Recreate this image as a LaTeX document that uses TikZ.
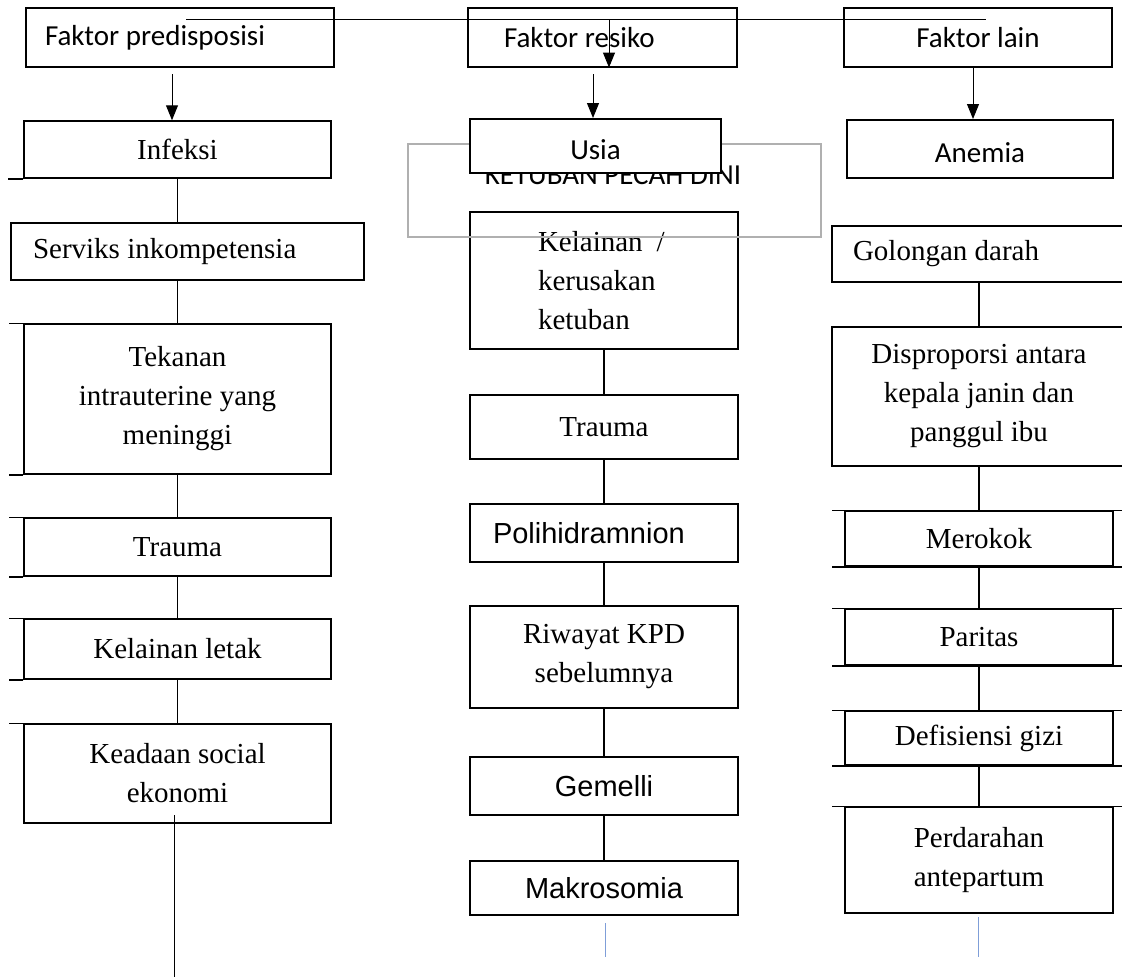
\documentclass[tikz,border=0pt]{standalone}
\usepackage{fontspec}
\newfontfamily\tnr{Liberation Serif}
\newfontfamily\calib{Carlito}
\newfontfamily\arl{Liberation Sans}
\usepackage{tikz}
\usetikzlibrary{
  arrows.meta,
  positioning,
  calc
}
\definecolor{kpdgray}{HTML}{B0B0B0}
\definecolor{kpdblue}{HTML}{7F9ED8}

\begin{document}
\begin{tikzpicture}[x=1pt,y=-1pt,
			box/.style={draw, line width=1.5pt, inner sep=0pt,
				font=\tnr\fontsize{29}{39}\selectfont},
			hd/.style={draw, line width=1.1pt, inner sep=0pt, minimum height=59pt,
				font=\calib\fontsize{29}{36}\selectfont},
			tb/.style={box, line width=2pt, fill=white, text height=27pt, text depth=0pt,
				font=\calib\fontsize{29}{36}\selectfont},
			ar/.style={box, font=\arl\fontsize{29}{36}\selectfont},
			ln/.style={line width=1.6pt},
			lnb/.style={line width=2.4pt},
			stub/.style={line width=1.5pt},
			blu/.style={kpdblue, line width=1pt},
			arr/.style={-{Triangle[width=12pt,length=15pt]}, line width=1pt}
			]
			\clip (0,0) rectangle (1122,978);
			% top row
			\node[hd, minimum width=308pt, text width=270pt, align=flush left] (fpre) at (180,37.5) {Faktor predisposisi};
			\node[hd, minimum width=269pt, text width=197pt, align=flush left] (fres) at (602.5,37.5) {Faktor resiko};
			\node[hd, minimum width=268pt] (flain) at (978,37.5) {Faktor lain};
			\coordinate (tl) at (186,19);
			\coordinate (tr) at (986,19);
			\draw[line width=1pt] (tl) -- (tr);
			% left column
			\node[box, minimum width=307pt, minimum height=57pt] (inf) at (177.5,149.5) {Infeksi};
			\node[box, minimum width=353pt, minimum height=57pt, text width=309pt, align=flush left] (srv) at (187.5,251.5) {Serviks inkompetensia};
			\node[box, minimum width=307pt, minimum height=150pt, align=center] (tek) at (177.5,399) {Tekanan\\intrauterine yang\\meninggi};
			\node[box, minimum width=307pt, minimum height=58pt] (trl) at (177.5,547) {Trauma};
			\node[box, minimum width=307pt, minimum height=60pt] (klt) at (177.5,649) {Kelainan letak};
			\node[box, minimum width=307pt, minimum height=99pt, align=center] (kea) at (177.5,773.5) {Keadaan social\\ekonomi};
			\draw[ln] (inf.south) -- (inf.south |- srv.north);
			\draw[ln] (tek.north |- srv.south) -- (tek.north);
			\draw[ln] (tek) -- (trl);
			\draw[ln] (trl) -- (klt);
			\draw[ln] (klt) -- (kea);
			\draw[stub] (inf.south west) -- ++(-15,0);
			\foreach \n in {tek,trl,klt}{
				\draw[stub] (\n.north west) -- ++(-14,0);
				\draw[stub] (\n.south west) -- ++(-14,0);
			}
			\draw[stub] (kea.north west) -- ++(-14,0);
			\coordinate (ke1) at (174,815);
			\coordinate (ke2) at (174,977);
			\draw[line width=1pt] (ke1) -- (ke2);
			% middle column
			\node[box, minimum width=268pt, minimum height=137pt, text width=132pt, align=flush left] (kel) at (604,280.5) {\hbox{Kelainan\hspace{14pt}/}\\kerusakan\\ketuban};
			\node[draw=kpdgray, line width=2pt, inner sep=0pt, minimum width=413pt, minimum height=93pt] (frame) at (614.5,190.5) {};
			\node[font=\calib\fontsize{29}{36}\selectfont, anchor=base, inner sep=0pt] (kpd) at (613,184) {KETUBAN PECAH DINI};
			\node[tb, minimum width=251pt, minimum height=54pt] (usia) at (595.5,146) {Usia};
			\node[box, minimum width=268pt, minimum height=64pt] (trm) at (604,427) {Trauma};
			\node[ar, minimum width=268pt, minimum height=58pt, text width=222pt, align=flush left] (poli) at (604,533) {Polihidramnion};
			\node[box, minimum width=268pt, minimum height=102pt, align=center] (riw) at (604,657) {Riwayat KPD\\sebelumnya};
			\node[ar, minimum width=268pt, minimum height=58pt] (gem) at (604,786) {Gemelli};
			\node[ar, minimum width=268pt, minimum height=54pt] (mak) at (604,888) {Makrosomia};
			\draw[lnb] (kel) -- (trm);
			\draw[lnb] (trm) -- (poli);
			\draw[ln] (poli) -- (riw);
			\draw[ln] (riw) -- (gem);
			\draw[lnb] (gem) -- (mak);
			\coordinate (bm1) at (605,923);
			\coordinate (bm2) at (605,957);
			\draw[blu] (bm1) -- (bm2);
			% right column
			\node[tb, minimum width=266pt, minimum height=58pt] (anem) at (980,149) {Anemia};
			\node[box, line width=2pt, minimum width=294pt, minimum height=56pt, text width=252pt, align=flush left] (gol) at (979,254) {Golongan darah};
			\node[box, minimum width=294pt, minimum height=139pt, align=center] (dis) at (979,396.5) {Disproporsi antara\\kepala janin dan\\panggul ibu};
			\node[box, minimum width=268pt, minimum height=55pt] (mer) at (979,538.5) {Merokok};
			\node[box, minimum width=268pt, minimum height=56pt] (par) at (979,637) {Paritas};
			\node[box, minimum width=268pt, minimum height=54pt] (def) at (979,738) {Defisiensi gizi};
			\node[box, minimum width=268pt, minimum height=106pt, align=center] (perd) at (979,860) {Perdarahan\\antepartum};
			\draw[ln] (gol) -- (dis);
			\draw[lnb] (dis) -- (mer);
			\draw[ln] (mer) -- (par);
			\draw[lnb] (par) -- (def);
			\draw[ln] (def) -- (perd);
			\foreach \n in {mer,par,def}{
				\draw[stub] ([xshift=-12pt]\n.north west) -- ([xshift=14pt]\n.north east);
				\draw[stub] ([xshift=-12pt]\n.south west) -- ([xshift=14pt]\n.south east);
			}
			\draw[stub] ([xshift=-12pt]perd.north west) -- ([xshift=14pt]perd.north east);
			\coordinate (br1) at (978,917);
			\coordinate (br2) at (978,957);
			\draw[blu] (br1) -- (br2);
			% arrows from the factor boxes
			\coordinate (a1) at (172,74);
			\coordinate (a2) at (593,74);
			\coordinate (a3) at (609,19);
			\coordinate (a4) at (973,67);
			\draw[arr] (a1) -- (a1 |- inf.north);
			\draw[arr] (a2) -- (a2 |- usia.north);
			\draw[arr] (a3) -- (a3 |- fres.south);
			\draw[arr] (a4) -- (a4 |- anem.north);
	\end{tikzpicture}
\end{document}
